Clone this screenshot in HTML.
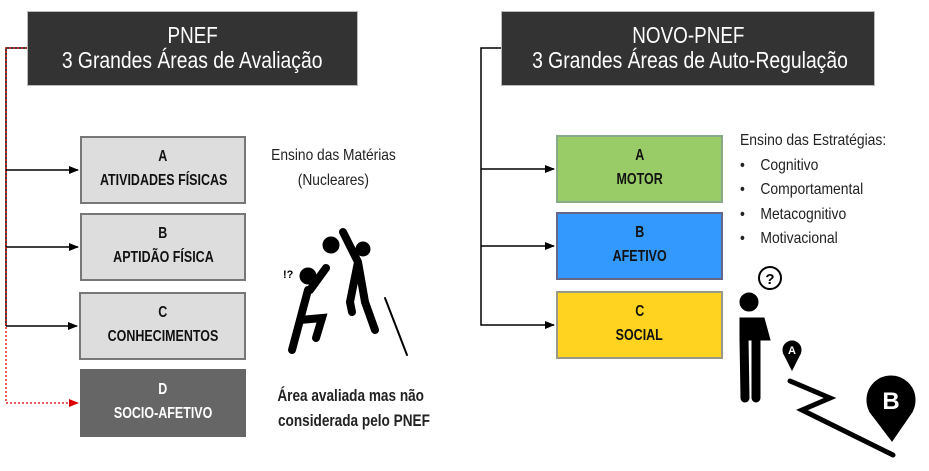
<!DOCTYPE html>
<html><head><meta charset="utf-8"><style>
body{margin:0;width:929px;height:471px;background:#fff;position:relative;overflow:hidden;font-family:"Liberation Sans",sans-serif}
.h{position:absolute;background:#333;color:#fff;text-align:center;font-size:23px;line-height:25px;padding-top:11px;box-sizing:border-box;border:1px solid #bbb;white-space:nowrap}
.b{position:absolute;border:2px solid #777;box-sizing:border-box;text-align:center;font-weight:bold;font-size:16px;line-height:24px;padding-top:7px;color:#111;white-space:nowrap}
.s{display:inline-block;transform:scaleX(0.78)}
.t{position:absolute;font-size:16px;color:#222;line-height:25px;white-space:nowrap}
svg{position:absolute;left:0;top:0}
</style></head><body>
<div class="h" style="left:27px;top:11px;width:331px;height:75px"><span class="s" style="transform:scaleX(0.82)">PNEF</span><br><span class="s" style="transform:scaleX(0.84)">3 Grandes Áreas de Avaliação</span></div>
<div class="h" style="left:501px;top:11px;width:374px;height:75px"><span class="s" style="transform:scaleX(0.82)">NOVO-PNEF</span><br><span class="s" style="transform:scaleX(0.84)">3 Grandes Áreas de Auto-Regulação</span></div>
<div class="b" style="left:80px;top:136px;width:166px;height:68px;background:#ddd"><span class="s">A</span><br><span class="s">ATIVIDADES FÍSICAS</span></div>
<div class="b" style="left:80px;top:213px;width:166px;height:68px;background:#ddd"><span class="s">B</span><br><span class="s">APTIDÃO FÍSICA</span></div>
<div class="b" style="left:79px;top:292px;width:167px;height:68px;background:#ddd"><span class="s">C</span><br><span class="s">CONHECIMENTOS</span></div>
<div class="b" style="left:80px;top:369px;width:166px;height:68px;background:#666;color:#fff;border-color:#666"><span class="s">D</span><br><span class="s">SOCIO-AFETIVO</span></div>
<div class="b" style="left:556px;top:135px;width:167px;height:68px;background:#99cc66;border-color:#8a8"><span class="s">A</span><br><span class="s">MOTOR</span></div>
<div class="b" style="left:556px;top:212px;width:167px;height:68px;background:#3399ff;border-color:#668"><span class="s">B</span><br><span class="s">AFETIVO</span></div>
<div class="b" style="left:556px;top:291px;width:167px;height:68px;background:#ffd320;border-color:#998"><span class="s">C</span><br><span class="s">SOCIAL</span></div>
<div class="t" style="left:253px;top:143px;width:160px;text-align:center"><span class="s" style="transform:scaleX(0.86)">Ensino das Matérias</span><br><span class="s" style="transform:scaleX(0.86)">(Nucleares)</span></div>
<div class="t" style="left:259px;top:383px;width:180px;text-align:center;font-weight:bold;font-size:17px"><span class="s" style="transform:scaleX(0.8)">Área avaliada mas não</span><br><span class="s" style="transform:scaleX(0.8)">considerada pelo PNEF</span></div>
<div class="t" style="left:740px;top:129px;line-height:24.5px;font-size:16px;transform:scaleX(0.87);transform-origin:0 0">Ensino das Estratégias:<br>•&nbsp;&nbsp;&nbsp;&nbsp;Cognitivo<br>•&nbsp;&nbsp;&nbsp;&nbsp;Comportamental<br>•&nbsp;&nbsp;&nbsp;&nbsp;Metacognitivo<br>•&nbsp;&nbsp;&nbsp;&nbsp;Motivacional</div>
<svg width="929" height="471">
<defs><marker id="a" markerWidth="10" markerHeight="8" refX="9" refY="4" orient="auto" markerUnits="userSpaceOnUse"><path d="M0,0L10,4L0,8z" fill="#000"/></marker>
<marker id="r" markerWidth="10" markerHeight="8" refX="9" refY="4" orient="auto" markerUnits="userSpaceOnUse"><path d="M0,0L10,4L0,8z" fill="#d00"/></marker></defs>
<g stroke="#000" stroke-width="1.5" fill="none">
<path d="M27,48H6V326"/>
<path d="M6,170H78" marker-end="url(#a)"/><path d="M6,247H78" marker-end="url(#a)"/><path d="M6,326H77" marker-end="url(#a)"/>
<path d="M501,48H481V325H554" marker-end="url(#a)"/>
<path d="M481,169H554" marker-end="url(#a)"/><path d="M481,246H554" marker-end="url(#a)"/>
</g>
<path d="M27,48H6V403H78" stroke="#d00" stroke-width="1.3" stroke-dasharray="2,2" fill="none" marker-end="url(#r)"/>
<g fill="#000" stroke="#000" stroke-linecap="round">
<circle cx="331" cy="245" r="8"/><circle cx="363" cy="249" r="7"/><circle cx="308" cy="276" r="8"/>
<path d="M343,232L358,262L365,302L375,330M358,262L350,302L352,312" stroke-width="8" fill="none"/>
<path d="M308,290L300,320L292,350M300,320L322,318L316,338M310,290L326,268" stroke-width="8" fill="none"/>
<path d="M385,298L407,355" stroke-width="2" fill="none"/>
</g>
<text x="283" y="278" font-size="11" font-family="Liberation Sans" font-weight="bold">!?</text>
<g fill="#000" stroke="#000" stroke-linecap="round">
<circle cx="770" cy="278" r="11" fill="#fff" stroke-width="2"/>
<circle cx="749" cy="302" r="9"/>
<path d="M740,318h24l6,22h-30z"/><path d="M744,338L745,398M756,338L756,398" stroke-width="9"/>
<circle cx="792" cy="350" r="9"/><path d="M784,354L792,370L800,354z"/>
<path d="M790,381L830,398L802,410L893,455" stroke-width="5" fill="none"/>
<circle cx="891" cy="400" r="24"/><path d="M870,412L892,441L912,412z"/>
</g>
<text x="770" y="284" font-size="15" font-weight="bold" text-anchor="middle" font-family="Liberation Sans">?</text>
<text x="792" y="354" font-size="11" font-weight="bold" fill="#fff" text-anchor="middle" font-family="Liberation Sans">A</text>
<text x="891" y="409" font-size="24" font-weight="bold" fill="#fff" text-anchor="middle" font-family="Liberation Sans">B</text>
</svg>
</body></html>
